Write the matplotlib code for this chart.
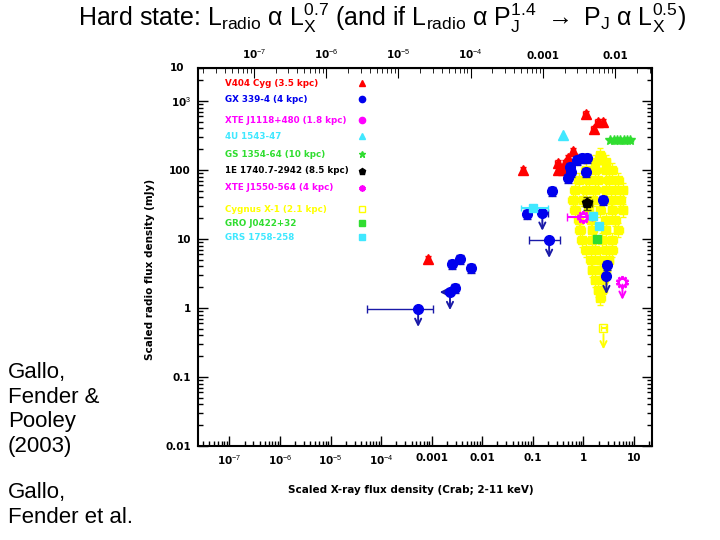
import numpy as np
import matplotlib
matplotlib.use('Agg')
import matplotlib.pyplot as plt
from matplotlib.ticker import FixedLocator, NullFormatter, LogLocator

# --- data (x: Crab, y: mJy) ---
v404_x = [8.5e-4, 0.065, 1.1, 1.9, 2.4, 1.6, 0.63, 0.31, 0.44, 0.32, 0.40, 0.50]
v404_y = [5.1, 100, 650, 500, 500, 390, 190, 126, 126, 100, 100, 150]

gx_x = [2.55e-3, 3.7e-3, 6.1e-3, 2.9e-3, 0.078, 0.24, 0.5, 0.55, 0.76, 0.95, 1.2, 1.1, 0.57, 2.49, 2.99]
gx_y = [4.3, 5.1, 3.8, 1.95, 23, 50, 77, 110, 140, 150, 150, 94, 94, 37, 4.2]
gx_lim_x = [5.4e-4, 2.3e-3, 0.154, 0.21, 2.85]
gx_lim_y = [0.97, 1.7, 24, 9.7, 2.9]
gx_lim_xlo = [5.3e-5, 2.3e-3, 0.154, 0.085, 2.85]
gx_lim_xhi = [1.07e-3, 2.3e-3, 0.2, 0.35, 2.85]

u1543_x = [0.40]
u1543_y = [320]

gs1354_x = [3.4, 4.0, 4.7, 5.4, 6.3, 7.3, 8.5]
gs1354_y = [272, 272, 272, 272, 272, 272, 272]

e1740_x = [1.2]
e1740_y = [33]

j1550_x = [1.0]
j1550_y = [20.8]
j1550_lim_x = [5.9]
j1550_lim_y = [2.4]

gro_x = [1.89]
gro_y = [10]

grs_x = [0.102, 1.58, 2.07]
grs_y = [28, 21.5, 15.4]

# Cygnus X-1 cloud, row by row
cyg_x = [2.17,
         1.73, 2.73,
         1.10, 1.73, 2.73, 3.75,
         0.80, 1.26, 1.98, 3.13, 4.93,
         0.69, 1.10, 1.73, 2.73, 4.30, 5.92,
         0.63, 1.00, 1.58, 3.43, 5.40,
         0.69, 1.26, 2.17, 3.75, 5.92,
         0.80, 1.38, 2.73, 4.30,
         0.87, 1.51, 2.73, 4.93,
         0.95, 1.51, 2.38, 3.75,
         1.10, 1.73, 2.73, 3.75,
         1.38, 2.17, 3.13,
         1.51, 2.17, 2.73,
         1.73, 2.49,
         1.98, 2.38,
         2.17]
cyg_y = [165,
         131, 131,
         100, 100, 100, 100,
         72, 72, 72, 72, 72,
         51, 51, 51, 51, 51, 51,
         37, 37, 37, 37, 37,
         26, 26, 26, 26, 26,
         19, 19, 19, 19,
         13.5, 13.5, 13.5, 13.5,
         9.7, 9.7, 9.7, 9.7,
         6.9, 6.9, 6.9, 6.9,
         5.0, 5.0, 5.0,
         3.55, 3.55, 3.55,
         2.55, 2.55,
         1.82, 1.82,
         1.4]
cyg_lim_x = [2.49]
cyg_lim_y = [0.51]

legend_labels = ["V404 Cyg (3.5 kpc)", "GX 339-4 (4 kpc)", "XTE J1118+480 (1.8 kpc)",
                 "4U 1543-47", "GS 1354-64 (10 kpc)", "1E 1740.7-2942 (8.5 kpc)",
                 "XTE J1550-564 (4 kpc)", "Cygnus X-1 (2.1 kpc)", "GRO J0422+32",
                 "GRS 1758-258"]

x_ticks = [1e-7, 1e-6, 1e-5, 1e-4, 1e-3, 0.01, 0.1, 1, 10]
x_labels = ["10$^{-7}$", "10$^{-6}$", "10$^{-5}$", "10$^{-4}$", "0.001", "0.01", "0.1", "1", "10"]
y_ticks = [0.01, 0.1, 1, 10, 100, 1000]
y_labels = ["0.01", "0.1", "1", "10", "100", "10$^{3}$"]
top_ticks = [1e-7, 1e-6, 1e-5, 1e-4, 1e-3, 0.01]
top_labels = ["10$^{-7}$", "10$^{-6}$", "10$^{-5}$", "10$^{-4}$", "0.001", "0.01"]

RED = '#ff0000'
BLUE = '#0000ee'
NAVY = '#1a1aa8'
MAG = '#ff00ff'
CYAN = '#40e8ff'
GREEN = '#30dd30'
YEL = '#ffff00'

plt.rcParams['mathtext.fontset'] = 'custom'
plt.rcParams['mathtext.rm'] = 'Liberation Sans'
plt.rcParams['mathtext.it'] = 'Liberation Sans:italic'

fig = plt.figure(figsize=(7.2, 5.4), dpi=100)
ax = fig.add_axes([0.275, 0.174, 0.631, 0.70])
ax.set_xscale('log')
ax.set_yscale('log')
ax.set_xlim(2.4e-8, 23)
ax.set_ylim(0.01, 3000)


def ferr(vals, lo, hi):
    v = np.array(vals)
    return [v * lo, v * hi]


def down_arrows(xs, ys, color):
    for x, y in zip(xs, ys):
        ax.annotate('', xy=(x, y * 0.5), xytext=(x, y),
                    arrowprops=dict(arrowstyle='->', color=color, lw=1.4, mutation_scale=11))


# Cygnus X-1 cloud first (underneath)
ax.errorbar(cyg_x, cyg_y, xerr=ferr(cyg_x, 0.2, 0.25), yerr=ferr(cyg_y, 0.2, 0.25),
            fmt='s', ms=6, mfc=YEL, mec=YEL, ecolor=YEL, elinewidth=1, capsize=2, zorder=2)
ax.errorbar(cyg_lim_x, cyg_lim_y, xerr=ferr(cyg_lim_x, 0.1, 0.1), fmt='s', ms=6, mfc='none',
            mec=YEL, ecolor=YEL, capsize=2, zorder=2)
down_arrows(cyg_lim_x, np.array(cyg_lim_y) * 0.9, YEL)

ax.errorbar(v404_x, v404_y, xerr=ferr(v404_x, 0.1, 0.1), yerr=ferr(v404_y, 0.1, 0.1),
            fmt='^', ms=7, color=RED, ecolor=RED, capsize=2, zorder=3)

ax.errorbar(gx_x, gx_y, yerr=ferr(gx_y, 0.15, 0.15), fmt='o', ms=7, color=BLUE,
            ecolor=NAVY, elinewidth=1, capsize=3, zorder=4)
gxl = np.array(gx_lim_x)
ax.errorbar(gx_lim_x, gx_lim_y,
            xerr=[gxl - np.array(gx_lim_xlo), np.array(gx_lim_xhi) - gxl],
            fmt='o', ms=7, color=BLUE, ecolor=NAVY, elinewidth=1, capsize=3, zorder=4)
down_arrows(gx_lim_x, gx_lim_y, NAVY)
ax.annotate('', xy=(gx_lim_x[1] * 0.55, gx_lim_y[1]), xytext=(gx_lim_x[1], gx_lim_y[1]),
            arrowprops=dict(arrowstyle='->', color=NAVY, lw=1.4, mutation_scale=11))

ax.plot(u1543_x, u1543_y, '^', ms=7, color=CYAN, zorder=4)
ax.errorbar(gs1354_x, gs1354_y, xerr=ferr(gs1354_x, 0.1, 0.1), yerr=ferr(gs1354_y, 0.08, 0.08),
            fmt='*', ms=7, color=GREEN, ecolor=GREEN, capsize=1.5, zorder=4)
ax.errorbar(e1740_x, e1740_y, xerr=ferr(e1740_x, 0.2, 0.25), yerr=ferr(e1740_y, 0.2, 0.25),
            fmt='p', ms=7, color='black', ecolor='#555500', capsize=3, zorder=5)
ax.errorbar(j1550_x, j1550_y, xerr=[[0.52], [0.5]], fmt='none', ecolor=MAG, capsize=3, zorder=5)
ax.plot(j1550_x, j1550_y, marker=(10, 1, 0), ms=9, mfc='none', mec=MAG, mew=1.5, ls='none', zorder=5)
ax.plot(j1550_lim_x, j1550_lim_y, marker=(10, 1, 0), ms=9, mfc='none', mec=MAG, mew=1.5, ls='none', zorder=5)
down_arrows(j1550_lim_x, j1550_lim_y, MAG)
ax.plot(gro_x, gro_y, 's', ms=6, color=GREEN, zorder=5)
ax.errorbar(grs_x, grs_y, xerr=[[0.045, 0.1, 0.1], [0.1, 0.1, 0.1]], fmt='s', ms=6,
            color=CYAN, ecolor=CYAN, capsize=2, zorder=5)

# legend drawn as coloured text rows
leg_colors = [RED, BLUE, MAG, CYAN, GREEN, 'black', MAG, YEL, GREEN, CYAN]
leg_markers = ['^', 'o', 'o', '^', '*', 'p', (10, 1, 0), 's', 's', 's']
leg_y = [0.96, 0.918, 0.862, 0.82, 0.772, 0.728, 0.683, 0.627, 0.59, 0.553]
for lab, c, m, yy in zip(legend_labels, leg_colors, leg_markers, leg_y):
    ax.text(0.059, yy, lab, transform=ax.transAxes, color=c, fontsize=6.3,
            fontweight='bold', va='center', ha='left')
    ax.plot([0.361], [yy], transform=ax.transAxes, marker=m, ms=4.5, color=c,
            mfc='none' if lab.startswith('Cygnus') else c, ls='none')

# axes cosmetics
ax.xaxis.set_major_locator(FixedLocator(x_ticks))
ax.set_xticklabels(x_labels)
ax.yaxis.set_major_locator(FixedLocator(y_ticks))
ax.set_yticklabels(y_labels)
ax.xaxis.set_minor_locator(LogLocator(base=10, subs=np.arange(2, 10)))
ax.yaxis.set_minor_locator(LogLocator(base=10, subs=np.arange(2, 10)))
ax.xaxis.set_minor_formatter(NullFormatter())
ax.yaxis.set_minor_formatter(NullFormatter())
ax.tick_params(which='both', direction='in', right=True, labelsize=7.5, width=1, pad=5)
ax.tick_params(which='major', length=7)
ax.tick_params(which='minor', length=3.5)
for lbl in ax.get_xticklabels() + ax.get_yticklabels():
    lbl.set_fontweight('bold')
for s in ax.spines.values():
    s.set_linewidth(1.5)
ax.text(-0.03, 1.0, "10", transform=ax.transAxes, ha='right', va='center',
        fontsize=7.5, fontweight='bold')

top = ax.secondary_xaxis('top', functions=(lambda x: 10 ** -2.44 * np.abs(x) ** 0.7,
                                            lambda t: (np.abs(t) / 10 ** -2.44) ** (1 / 0.7)))
top.xaxis.set_major_locator(FixedLocator(top_ticks))
top.set_xticklabels(top_labels)
top.xaxis.set_minor_locator(LogLocator(base=10, subs=np.arange(2, 10)))
top.xaxis.set_minor_formatter(NullFormatter())
top.tick_params(which='both', direction='in', labelsize=7.5, pad=5)
top.tick_params(which='major', length=7)
top.tick_params(which='minor', length=3.5)
for lbl in top.get_xticklabels():
    lbl.set_fontweight('bold')

ax.set_xlabel("Scaled X-ray flux density (Crab; 2-11 keV)", fontsize=7.5, fontweight='bold')
ax.xaxis.set_label_coords(0.469, -0.103)
ax.set_ylabel("Scaled radio flux density (mJy)", fontsize=7.5, fontweight='bold')
ax.yaxis.set_label_coords(-0.095, 0.466)

fig.text(0.531, 0.967,
         r"Hard state: L$_{\mathrm{radio}}$ $\mathrm{\alpha}$ L$_{\mathrm{X}}^{0.7}$ (and if "
         r"L$_{\mathrm{radio}}$ $\mathrm{\alpha}$ P$_{\mathrm{J}}^{1.4}$ $\rightarrow$ "
         r"P$_{\mathrm{J}}$ $\mathrm{\alpha}$ L$_{\mathrm{X}}^{0.5}$)",
         ha='center', va='center', fontsize=18, family='Liberation Sans')

fig.text(0.011, 0.330, "Gallo,\nFender &\nPooley\n(2003)", ha='left', va='top',
         fontsize=16, family='Liberation Sans', linespacing=1.24)
fig.text(0.011, 0.108, "Gallo,\nFender et al.", ha='left', va='top',
         fontsize=16, family='Liberation Sans', linespacing=1.24)

fig.savefig('out.png', dpi=100)
